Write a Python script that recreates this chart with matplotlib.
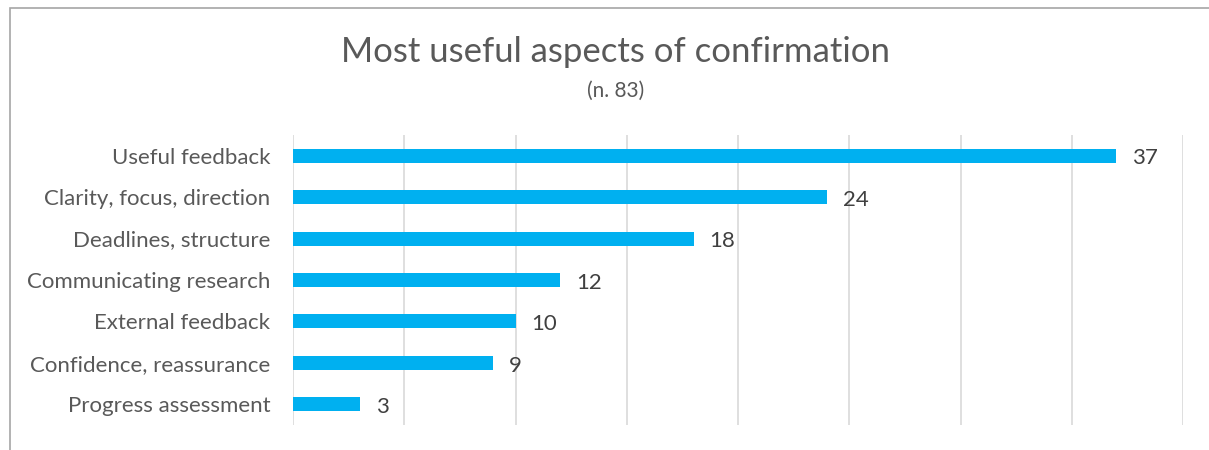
import matplotlib.pyplot as plt
from matplotlib.patches import Rectangle

aspects = ['Useful feedback', 'Clarity, focus, direction', 'Deadlines, structure',
           'Communicating research', 'External feedback', 'Confidence, reassurance',
           'Progress assessment']
counts = [37, 24, 18, 12, 10, 9, 3]

plt.rcParams['font.family'] = ['Lato', 'DejaVu Sans']
text_color = '#595959'

fig = plt.figure(figsize=(12.09, 4.5), dpi=100)
ax = fig.add_axes([0.2424, 0.0556, 0.7362, 0.6444])

ypos = list(range(len(aspects)))
ax.barh(ypos, counts, height=0.34, color='#00B0F0', zorder=3)
for y, v in zip(ypos, counts):
    ax.annotate(str(v), (v, y), xytext=(11.5, -2), textcoords='offset points',
                ha='left', va='center', fontsize=16, color='#404040')

ax.set_xlim(0, 40)
ax.set_ylim(len(aspects) - 0.5, -0.5)
ax.set_xticks(range(0, 41, 5))
ax.xaxis.grid(True, color='#D9D9D9', linewidth=1.2, zorder=0)
ax.tick_params(axis='x', bottom=False, labelbottom=False)
ax.tick_params(axis='y', left=False, length=0, pad=16.5)
ax.set_yticks(ypos)
ax.set_yticklabels(aspects, fontsize=16, color=text_color)
for s in ax.spines.values():
    s.set_visible(False)

fig.text(0.5095, 0.884, 'Most useful aspects of confirmation', ha='center',
         va='center', fontsize=25, color=text_color)
fig.text(0.5095, 0.797, '(n. 83)', ha='center', va='center', fontsize=15,
         color=text_color)

# chart frame, clipped at the right and bottom edges
fig.patches.append(Rectangle((10 / 1209, -0.1), 1.2, 1 - 8 / 450 + 0.1,
                             transform=fig.transFigure, fill=False,
                             edgecolor='#A6A6A6', linewidth=1.2))

fig.savefig('out.png', dpi=100, facecolor='white')
